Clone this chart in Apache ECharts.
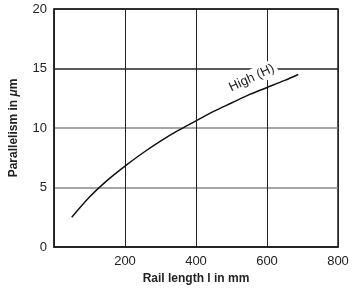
<!DOCTYPE html>
<html>
<head>
<meta charset="utf-8">
<script src="https://cdn.jsdelivr.net/npm/echarts@6/dist/echarts.min.js"></script>
<style>
  html, body { margin: 0; padding: 0; background: #fff; }
  #chart { width: 352px; height: 290px; }
</style>
</head>
<body>
<div id="chart"></div>
<script>
// rail length (mm) vs parallelism (um), accuracy class High (H)
var railLength = [50, 100, 150, 200, 250, 300, 350, 400, 450, 500, 550, 600, 650, 688];
var parallelism = [2.5, 4.2, 5.6, 6.8, 7.9, 8.9, 9.8, 10.6, 11.4, 12.1, 12.8, 13.4, 14.0, 14.5];
var xTicks = [0, 200, 400, 600, 800];
var yTicks = [0, 5, 10, 15, 20];
var curveLabel = 'High (H)';

var myChart = echarts.init(document.getElementById('chart'));

var seriesData = railLength.map(function (x, i) {
    return [x, parallelism[i]];
});

var option = {
    animation: false,
    grid: {
        left: 51,
        top: 9,
        right: 14,
        bottom: 42,
        show: true,
        borderColor: '#222',
        borderWidth: 1.5
    },
    xAxis: {
        type: 'value',
        min: xTicks[0],
        max: xTicks[xTicks.length - 1],
        interval: 200,
        name: 'Rail length l in mm',
        nameLocation: 'middle',
        nameGap: 26,
        nameTextStyle: {
            fontFamily: 'Liberation Sans',
            fontWeight: 'bold',
            fontSize: 12,
            color: '#222'
        },
        axisLine: {lineStyle: {color: '#222', width: 1.5}},
        axisTick: {show: false},
        axisLabel: {
            showMinLabel: false,
            margin: 8,
            fontFamily: 'Liberation Sans',
            fontSize: 13,
            color: '#222'
        },
        splitLine: {lineStyle: {color: '#222', width: 1}}
    },
    yAxis: {
        type: 'value',
        min: yTicks[0],
        max: yTicks[yTicks.length - 1],
        interval: 5,
        name: '{b|Parallelism in }{i|\u03bc}{b|m}',
        nameLocation: 'middle',
        nameGap: 34,
        nameTextStyle: {
            rich: {
                b: {fontFamily: 'Liberation Sans', fontWeight: 'bold', fontSize: 12, color: '#222'},
                i: {fontFamily: 'Liberation Sans', fontWeight: 'bold', fontStyle: 'italic', fontSize: 12, color: '#222'}
            }
        },
        axisLine: {lineStyle: {color: '#222', width: 1.5}},
        axisTick: {show: false},
        axisLabel: {
            margin: 7,
            fontFamily: 'Liberation Sans',
            fontSize: 13,
            color: '#222'
        },
        splitLine: {lineStyle: {color: ['#222', '#888', '#888', '#222', '#222'], width: 1.5}}
    },
    series: [{
        type: 'line',
        data: seriesData,
        smooth: 0.3,
        showSymbol: false,
        lineStyle: {color: '#111', width: 1.5},
        markPoint: {
            symbol: 'circle',
            symbolSize: 0,
            data: [{
                coord: [557, 14.2],
                label: {
                    show: true,
                    position: 'inside',
                    formatter: curveLabel,
                    rotate: 25,
                    fontFamily: 'Liberation Sans',
                    fontSize: 13,
                    color: '#222',
                    backgroundColor: '#fff',
                    padding: [2, 3]
                }
            }]
        }
    }]
};

myChart.setOption(option);
</script>
</body>
</html>
